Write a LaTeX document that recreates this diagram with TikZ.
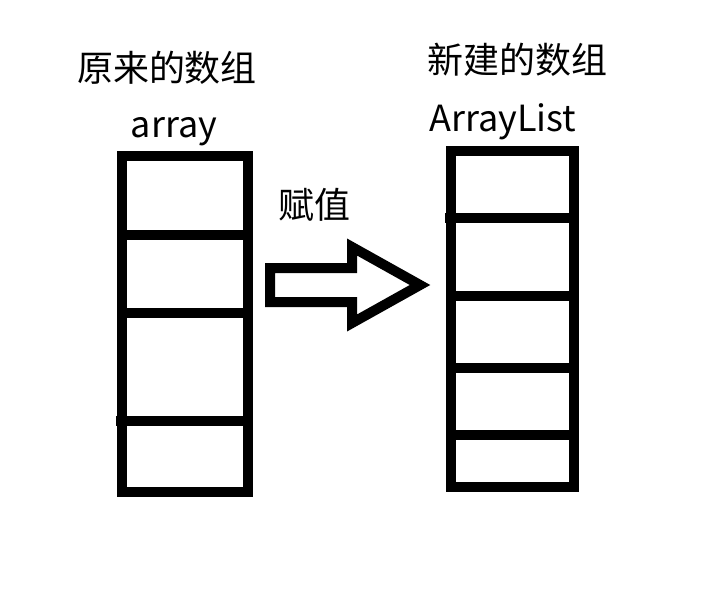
\documentclass[tikz,border=0pt]{standalone}
\usepackage{fontspec}
\setmainfont{Noto Sans CJK SC}
\begin{document}
\begin{tikzpicture}[x=1pt, y=-1pt, line width=10pt, line join=miter]
	\tikzset{lbl/.style={font=\fontsize{36}{40}\selectfont, inner sep=0pt}}
	\useasboundingbox[fill=white] (0,0) rectangle (710,599);
	% original array
	\node[lbl] (oldtitle) at (167,68) {原来的数组};
	\node[lbl] (oldname) at (174,132) {array};
	\draw (122,156) rectangle (248,492);
	\draw (122,235) -- (253,235);
	\draw (122,313) -- (248,313);
	\draw (116,421) -- (248,421);
	% new array
	\node[lbl] (newtitle) at (517,60) {新建的数组};
	\node[lbl] (newname) at (503,122) {ArrayList};
	\draw (451,151) rectangle (574,487);
	\draw (445,218) -- (574,218);
	\foreach \y in {296,368,435}
		\draw (451,\y) -- (574,\y);
	% assignment arrow
	\node[lbl] (assign) at (314,205) {赋值};
	\draw (270,268) -- (352,268) -- (352,247) -- (420,285) -- (352,323) -- (352,302) -- (270,302) -- cycle;
\end{tikzpicture}
\end{document}
